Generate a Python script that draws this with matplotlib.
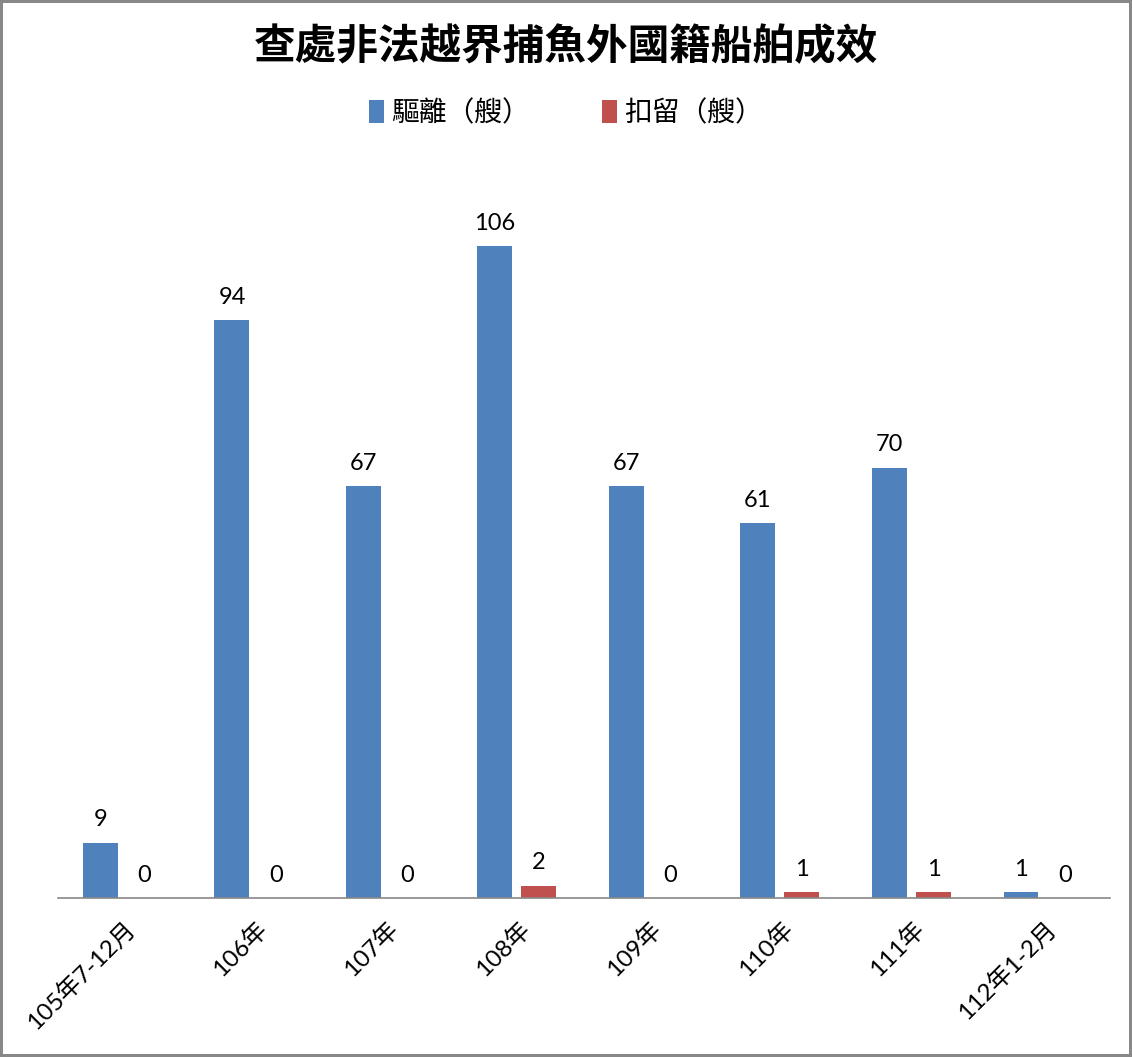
import numpy as np
import matplotlib
matplotlib.use("Agg")
import matplotlib.pyplot as plt
from matplotlib.patches import Patch

plt.rcParams['font.family'] = ['Lato', 'Noto Sans CJK TC', 'DejaVu Sans']

categories = ["105年7-12月", "106年", "107年", "108年", "109年", "110年", "111年", "112年1-2月"]
expelled = [9, 94, 67, 106, 67, 61, 70, 1]
detained = [0, 0, 0, 2, 0, 1, 1, 0]
series_names = ["驅離（艘）", "扣留（艘）"]
title = "查處非法越界捕魚外國籍船舶成效"

blue = "#4F81BD"
red = "#C0504D"

fig = plt.figure(figsize=(11.32, 10.57), dpi=100)
fig.patch.set_edgecolor("#888888")
fig.patch.set_linewidth(3)
ax = fig.add_axes([0.0512, 0.1504, 0.9294, 0.6982])

x = np.arange(len(categories))
w = 0.266
off = 0.167
b1 = ax.bar(x - off - 0.01, expelled, w, color=blue)
b2 = ax.bar(x + off - 0.01, detained, w, color=red)

for rect, v in zip(b1, expelled):
    ax.text(rect.get_x() + rect.get_width() / 2, v + 2.0, str(v),
            ha="center", va="bottom", fontsize=17)
for rect, v in zip(b2, detained):
    ax.text(rect.get_x() + rect.get_width() / 2, v + 2.0, str(v),
            ha="center", va="bottom", fontsize=17)

ax.set_xlim(-0.5, len(categories) - 0.5)
ax.set_ylim(0, 120)
ax.set_yticks([])
for s in ["top", "right", "left"]:
    ax.spines[s].set_visible(False)
ax.spines["bottom"].set_color("#888888")
ax.spines["bottom"].set_linewidth(1.2)
ax.set_xticks(x)
ax.set_xticklabels(categories, rotation=45, ha="right", rotation_mode="anchor", fontsize=17.5)
ax.tick_params(axis="x", length=0, pad=14)

fig.text(0.5, 0.955, title, ha="center", va="center", fontsize=30,
         fontweight="bold", family=["Noto Sans CJK TC"])

handles = [Patch(facecolor=blue), Patch(facecolor=red)]
fig.legend(handles, series_names, loc="center", bbox_to_anchor=(0.5, 0.893), ncol=2,
           frameon=False, handlelength=0.55, handleheight=0.85,
           handletextpad=0.25, columnspacing=2.6, prop={"family": ["Noto Sans CJK TC"], "size": 20})

plt.savefig("out.png", dpi=100, edgecolor=fig.get_edgecolor())
